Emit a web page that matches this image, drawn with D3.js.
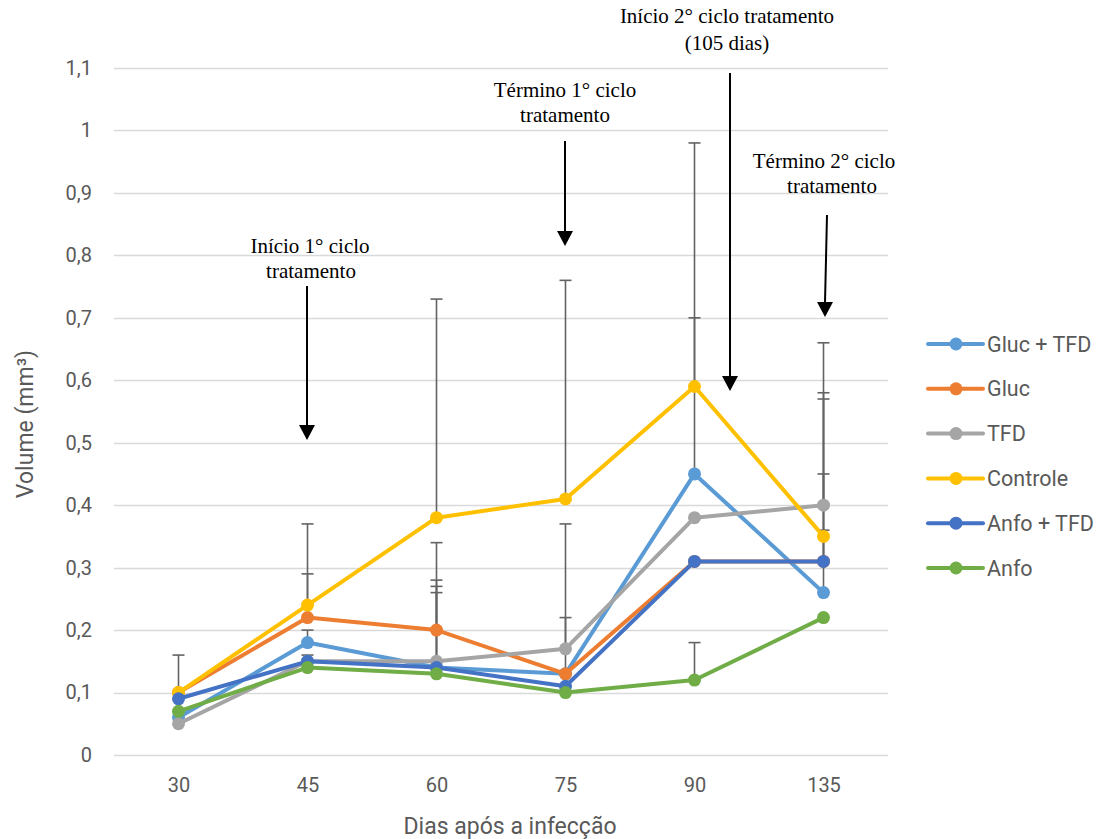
<!DOCTYPE html>
<html>
<head>
<meta charset="utf-8">
<script src="https://cdn.jsdelivr.net/npm/d3@7"></script>
<style>
  body { margin: 0; background: #fff; }
  .tick text { fill: #595959; }
</style>
</head>
<body>
<div id="chart"></div>
<script>
// dados
var categories = ["30", "45", "60", "75", "90", "135"];
var seriesNames = ["Gluc + TFD", "Gluc", "TFD", "Controle", "Anfo + TFD", "Anfo"];

var glucTfd  = [0.06, 0.18, 0.14, 0.13, 0.45, 0.26];
var gluc     = [0.10, 0.22, 0.20, 0.13, 0.31, 0.31];
var tfd      = [0.05, 0.15, 0.15, 0.17, 0.38, 0.40];
var controle = [0.10, 0.24, 0.38, 0.41, 0.59, 0.35];
var anfoTfd  = [0.09, 0.15, 0.14, 0.11, 0.31, 0.31];
var anfo     = [0.07, 0.14, 0.13, 0.10, 0.12, 0.22];

// barras de erro (só para cima)
var glucTfdErr  = [0, 0.02, 0.13, 0, 0.25, 0.31];
var glucErr     = [0, 0.07, 0.14, 0.09, 0, 0.05];
var tfdErr      = [0, 0, 0.13, 0.20, 0, 0.26];
var controleErr = [0.06, 0.13, 0.35, 0.35, 0.39, 0.23];
var anfoTfdErr  = [0, 0.01, 0.12, 0, 0, 0.14];
var anfoErr     = [0, 0, 0, 0, 0.06, 0];

var yTicks = [0, 0.1, 0.2, 0.3, 0.4, 0.5, 0.6, 0.7, 0.8, 0.9, 1, 1.1];

var colors = ["#5B9BD5", "#ED7D31", "#A5A5A5", "#FFC000", "#4472C4", "#70AD47"];

var allValues = [glucTfd, gluc, tfd, controle, anfoTfd, anfo];
var allErrors = [glucTfdErr, glucErr, tfdErr, controleErr, anfoTfdErr, anfoErr];

var series = seriesNames.map(function (name, i) {
	return {
		name: name,
		color: colors[i],
		points: categories.map(function (c, j) {
			return {cat: c, value: allValues[i][j], err: allErrors[i][j]};
		})
	};
});

var width = 1097, height = 839;
var plot = {left: 114, right: 888, top: 68, bottom: 755};

var svg = d3.select("#chart")
	.append("svg")
	.attr("width", width)
	.attr("height", height);

var x = d3.scalePoint()
	.domain(categories)
	.range([plot.left, plot.right])
	.padding(0.5);

var y = d3.scaleLinear()
	.domain([0, 1.1])
	.range([plot.bottom, plot.top]);

var axisFont = "Roboto, 'Open Sans', sans-serif";
var serifFont = "'Liberation Serif', 'Times New Roman', serif";

// linhas de grade
svg.append("g")
	.selectAll("line")
	.data(yTicks)
	.enter().append("line")
	.attr("x1", plot.left)
	.attr("x2", plot.right)
	.attr("y1", function (d) { return Math.round(y(d)) + 0.5; })
	.attr("y2", function (d) { return Math.round(y(d)) + 0.5; })
	.attr("stroke", "#d9d9d9")
	.attr("stroke-width", 1.3);

// eixo y
var yAxis = svg.append("g")
	.attr("transform", "translate(" + (plot.left - 22) + ",0)")
	.call(d3.axisLeft(y).tickValues(yTicks).tickSize(0).tickPadding(0)
		.tickFormat(function (d) { return d3.format(".1~f")(d).replace(".", ","); }));
yAxis.select(".domain").remove();
yAxis.selectAll("text")
	.style("font-family", axisFont)
	.style("font-size", "20px");

// eixo x
var xAxis = svg.append("g")
	.attr("transform", "translate(0," + (plot.bottom + 19) + ")")
	.call(d3.axisBottom(x).tickSize(0).tickPadding(4));
xAxis.select(".domain").remove();
xAxis.selectAll("text")
	.style("font-family", axisFont)
	.style("font-size", "20px");

// títulos dos eixos
svg.append("text")
	.attr("x", (plot.left + plot.right) / 2 + 9)
	.attr("y", 834)
	.attr("text-anchor", "middle")
	.style("font-family", axisFont)
	.style("font-size", "23px")
	.attr("fill", "#595959")
	.text("Dias após a infecção");

svg.append("text")
	.attr("transform", "translate(33,424) rotate(-90)")
	.attr("text-anchor", "middle")
	.style("font-family", axisFont)
	.style("font-size", "23px")
	.attr("fill", "#595959")
	.text("Volume (mm³)");

// barras de erro
var errG = svg.append("g");
series.forEach(function (s) {
	var pts = s.points.filter(function (p) { return p.err > 0; });
	var g = errG.append("g").selectAll("g").data(pts).enter().append("g");
	g.append("line")
		.attr("x1", function (p) { return x(p.cat); })
		.attr("x2", function (p) { return x(p.cat); })
		.attr("y1", function (p) { return y(p.value); })
		.attr("y2", function (p) { return y(p.value + p.err); })
		.attr("stroke", "#636363")
		.attr("stroke-width", 1.6);
	g.append("line")
		.attr("x1", function (p) { return x(p.cat) - 6; })
		.attr("x2", function (p) { return x(p.cat) + 6; })
		.attr("y1", function (p) { return y(p.value + p.err); })
		.attr("y2", function (p) { return y(p.value + p.err); })
		.attr("stroke", "#636363")
		.attr("stroke-width", 1.6);
});

// séries
var line = d3.line()
	.x(function (p) { return x(p.cat); })
	.y(function (p) { return y(p.value); });

series.forEach(function (s) {
	svg.append("path")
		.datum(s.points)
		.attr("d", line)
		.attr("fill", "none")
		.attr("stroke", s.color)
		.attr("stroke-width", 4)
		.attr("stroke-linejoin", "round");
	svg.append("g").selectAll("circle")
		.data(s.points)
		.enter().append("circle")
		.attr("cx", function (p) { return x(p.cat); })
		.attr("cy", function (p) { return y(p.value); })
		.attr("r", 6.5)
		.attr("fill", s.color);
});

// legenda
var legend = svg.append("g").attr("transform", "translate(928,344)");
var item = legend.selectAll("g")
	.data(series)
	.enter().append("g")
	.attr("transform", function (d, i) { return "translate(0," + (i * 44.8) + ")"; });
item.append("line")
	.attr("x1", 0).attr("x2", 55)
	.attr("stroke", function (d) { return d.color; })
	.attr("stroke-width", 4)
	.attr("stroke-linecap", "round");
item.append("circle")
	.attr("cx", 28).attr("r", 6.5)
	.attr("fill", function (d) { return d.color; });
item.append("text")
	.attr("x", 59)
	.attr("y", 7.5)
	.style("font-family", axisFont)
	.style("font-size", "21.5px")
	.attr("fill", "#595959")
	.text(function (d) { return d.name; });

// anotações (setas)
var annotations = [
	{lines: ["Início 1° ciclo", "tratamento"], tx: [310, 311], ty: [253, 278], x1: 307, y1: 286, x2: 307, y2: 440},
	{lines: ["Término 1° ciclo", "tratamento"], tx: [565, 565], ty: [97, 122], x1: 565, y1: 141, x2: 565, y2: 246},
	{lines: ["Início 2° ciclo tratamento", "(105 dias)"], tx: [727, 727], ty: [23, 50], x1: 730, y1: 73, x2: 730, y2: 391},
	{lines: ["Término 2° ciclo", "tratamento"], tx: [824, 832], ty: [168, 193], x1: 827, y1: 215, x2: 825, y2: 317}
];

annotations.forEach(function (a) {
	a.lines.forEach(function (t, i) {
		svg.append("text")
			.attr("x", a.tx[i])
			.attr("y", a.ty[i])
			.attr("text-anchor", "middle")
			.style("font-family", serifFont)
			.style("font-size", "21px")
			.attr("fill", "#000")
			.text(t);
	});
	// haste da seta
	svg.append("line")
		.attr("x1", a.x1).attr("y1", a.y1)
		.attr("x2", a.x2).attr("y2", a.y2 - 14)
		.attr("stroke", "#000")
		.attr("stroke-width", 2);
	// ponta da seta
	svg.append("path")
		.attr("d", "M" + (a.x2 - 8) + "," + (a.y2 - 15) + " L" + (a.x2 + 8) + "," + (a.y2 - 15) +
			" L" + a.x2 + "," + a.y2 + " Z")
		.attr("fill", "#000");
});
</script>
</body>
</html>
